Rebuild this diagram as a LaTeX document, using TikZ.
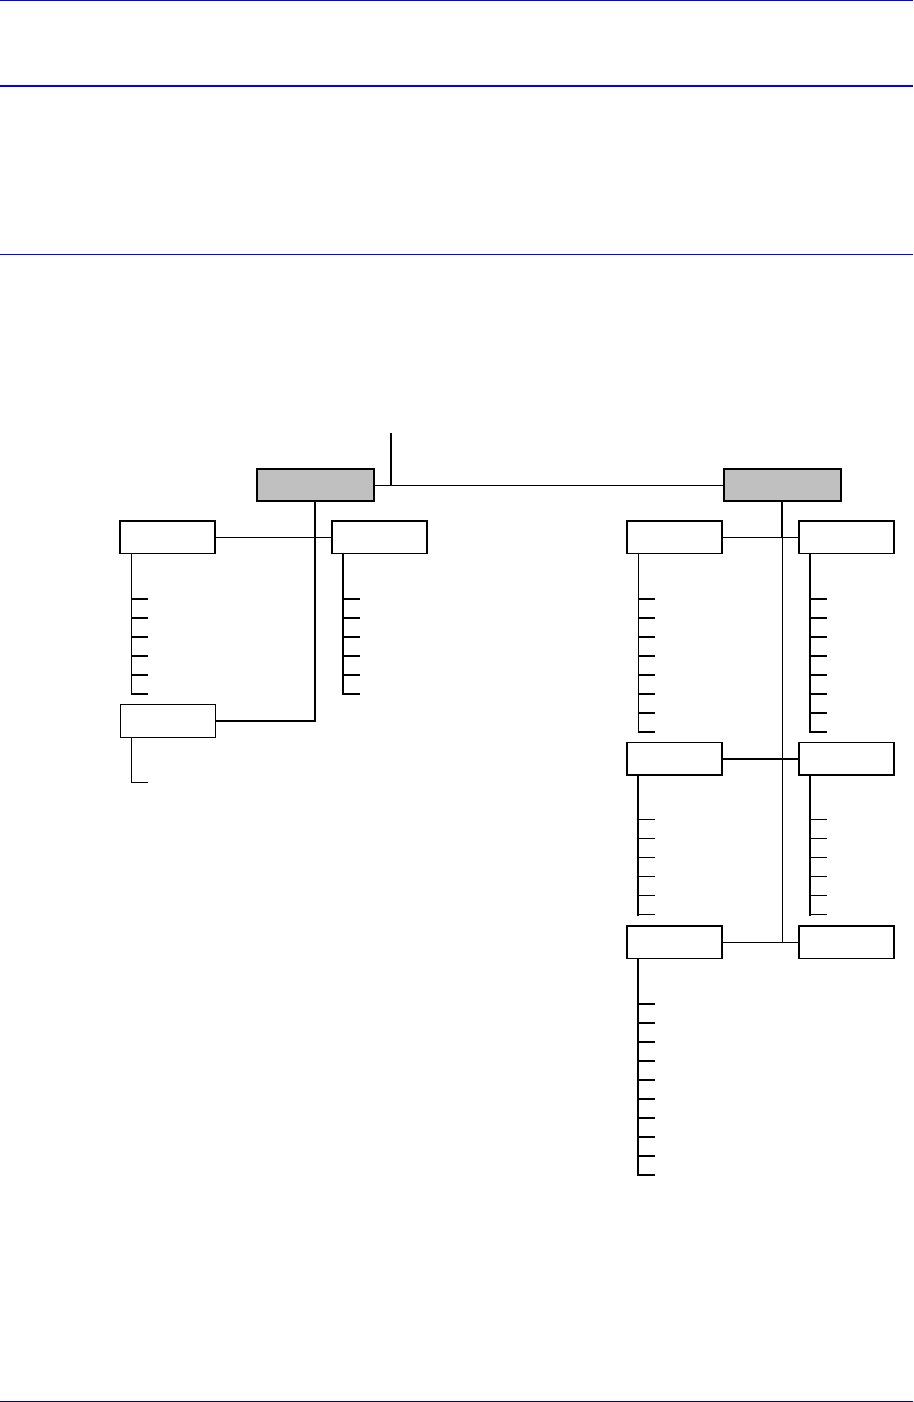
\documentclass[tikz,border=0pt]{standalone}
\usetikzlibrary{calc}
\definecolor{boxgray}{RGB}{192,192,192}
\definecolor{rulecol}{RGB}{0,0,255}
\definecolor{rulebot}{RGB}{0,0,160}
\newcommand\drawtree[4]{%
  \draw[#3,line cap=rect] ($(#1.south west)+(11,0)$) -- ++(0,{45+19*(#2-1)});
  \foreach \k in {1,...,#2}{\draw[#4] ($(#1.south west)+(11,{45+19*(\k-1)})$) -- ++(17,0);}
}
\begin{document}
\begin{tikzpicture}[x=1pt,y=-1pt,
  box/.style={draw, minimum width=95pt, minimum height=32.5pt, inner sep=0pt, outer sep=0pt, line width=1.5pt},
  thinbox/.style={box, line width=1pt},
  topbox/.style={box, fill=boxgray, minimum width=117pt, minimum height=32pt, line width=2pt},
  thinline/.style={line width=1pt},
  thickline/.style={line width=2pt},
  rulethin/.style={draw=rulecol, line width=1pt},
  rulethick/.style={draw=rulecol, line width=2pt}]
\useasboundingbox (0,0) rectangle (913,1402);
% page rules
\draw[rulethin] (0,0.5) -- (913,0.5);
\draw[rulethick] (0,86.5) -- (913,86.5);
\draw[rulethin] (0,254.5) -- (913,254.5);
\draw[draw=rulebot, line width=1pt] (0,1401) -- (913,1401);
% boxes
\node[topbox] (L) at (315,485) {};
\node[topbox] (R) at (782,485) {};
\node[box] (A) at (167.5,537.4) {};
\node[box] (B) at (379.7,537.4) {};
\node[thinbox] (C) at (167.5,720.8) {};
\node[box] (D) at (674.5,537.4) {};
\node[box] (E) at (846.7,537.4) {};
\node[box] (G) at (674.5,758.5) {};
\node[box] (H) at (846.7,758.5) {};
\node[box] (I) at (674.5,942.3) {};
\node[box] (J) at (846.7,942.3) {};
% connectors
\coordinate (top) at (391,433);
\draw[thickline] (top) -- (top |- L.east);
\draw[thinline] (L.east) -- (R.west);
\draw[thickline] (L.south) |- (C.east);
\draw[thinline] (A.east) -- (B.west);
\coordinate (rj) at (R.south |- D.east);
\coordinate (rb) at (R.south |- I.east);
\draw[thickline] (R.south) -- (rj);
\draw[thinline] (rj) -- (rb);
\draw[thinline] (D.east) -- (E.west);
\draw[thickline] (G.east) -- (H.west);
\draw[thinline] (I.east) -- (J.west);
% trees
\drawtree{A}{6}{thinline}{thickline}
\drawtree{B}{6}{thickline}{thickline}
\drawtree{C}{1}{thinline}{thinline}
\drawtree{D}{8}{thinline}{thickline}
\drawtree{E}{8}{thickline}{thickline}
\drawtree{G}{6}{thickline}{thinline}
\drawtree{H}{6}{thickline}{thinline}
\drawtree{I}{10}{thickline}{thickline}
\end{tikzpicture}
\end{document}
